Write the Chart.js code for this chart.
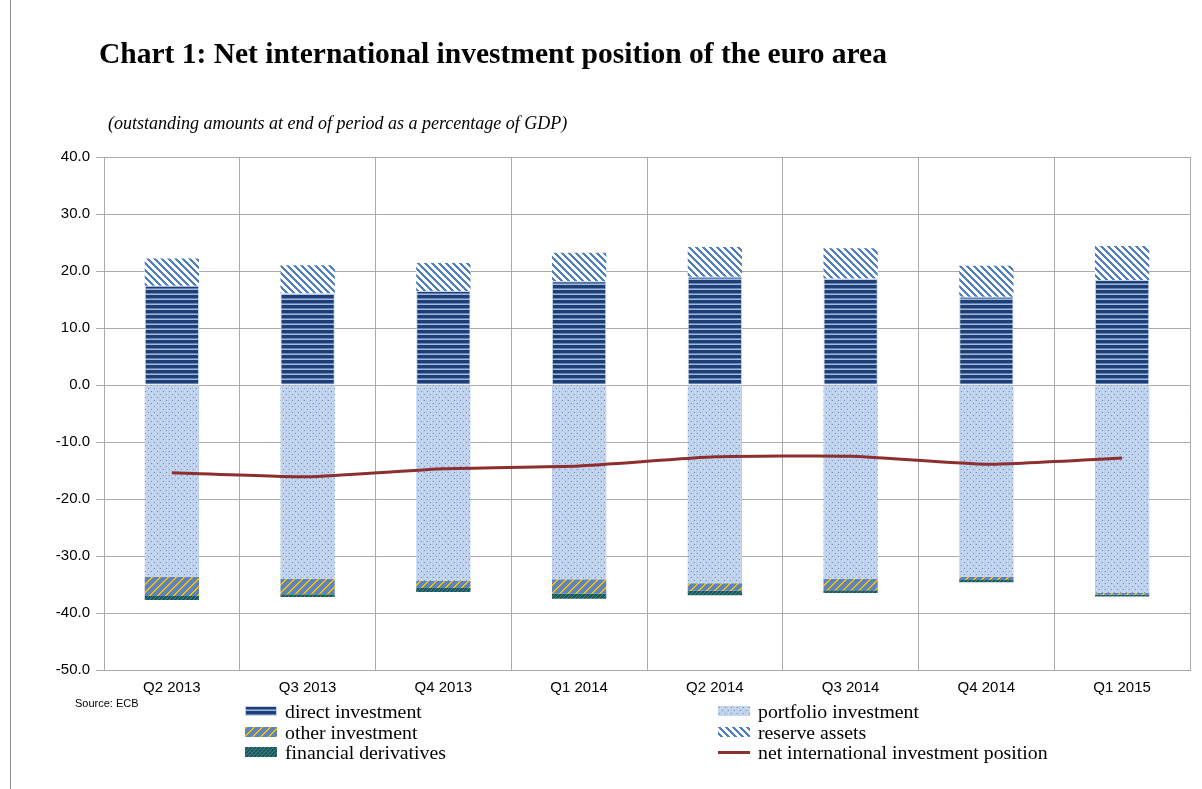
<!DOCTYPE html>
<html>
<head>
<meta charset="utf-8">
<script src="https://cdn.jsdelivr.net/npm/chart.js@4.4.1/dist/chart.umd.min.js"></script>
<style>
  body { margin: 0; background: #fff; }
  #wrap { position: relative; width: 1202px; height: 789px; overflow: hidden; }
  #chart { position: absolute; left: 0; top: 0; }
  .frame { position: absolute; left: 10px; top: 0; width: 1px; height: 789px; background: #8c8c8c; }
  .title { position: absolute; left: 99px; top: 37px; font: bold 29.5px "Liberation Serif", "Times New Roman", serif; color: #000; white-space: nowrap; }
  .subtitle { position: absolute; left: 108px; top: 113px; font: italic 18px "Liberation Serif", serif; color: #000; white-space: nowrap; }
  .source { position: absolute; left: 75px; top: 697px; font: 11px "Liberation Sans", Arial, sans-serif; color: #000; }
  .leg { position: absolute; font: 19.8px "Liberation Serif", serif; color: #000; white-space: nowrap; line-height: 20px; }
  .leg canvas { position: absolute; left: 0; top: 5px; }
  .leg span { position: absolute; top: 0; }
</style>
</head>
<body>
<div id="wrap">
  <canvas id="chart" width="1202" height="789"></canvas>
  <div class="frame"></div>
  <div class="title">Chart 1: Net international investment position of the euro area</div>
  <div class="subtitle">(outstanding amounts at end of period as a percentage of GDP)</div>
  <div class="source">Source: ECB</div>
  <div id="legend"></div>
</div>
<script>
// data (% of GDP)
const categories = ['Q2 2013', 'Q3 2013', 'Q4 2013', 'Q1 2014', 'Q2 2014', 'Q3 2014', 'Q4 2014', 'Q1 2015'];
const directInvestment = [17.4, 16.1, 16.5, 18.2, 19.0, 18.7, 15.5, 18.4];
const portfolioInvestment = [-33.7, -34.0, -34.4, -34.1, -34.8, -34.0, -33.7, -36.5];
const otherInvestment = [-3.3, -2.7, -1.2, -2.5, -1.3, -2.0, -0.5, -0.3];
const financialDerivatives = [-0.7, -0.5, -0.7, -0.9, -0.8, -0.5, -0.4, -0.3];
const reserveAssets = [4.8, 4.9, 4.9, 5.0, 5.2, 5.3, 5.4, 6.0];
const netPosition = [-15.4, -16.1, -14.7, -14.2, -12.6, -12.5, -13.9, -12.8];
const yMin = -50, yMax = 40, yStep = 10;

// small tiles used as fill patterns
function makeTile(w, h, colorAt) {
    const c = document.createElement('canvas');
    c.width = w; c.height = h;
    const g = c.getContext('2d');
    for (let y = 0; y < h; y++) {
        for (let x = 0; x < w; x++) {
            g.fillStyle = colorAt(x, y);
            g.fillRect(x, y, 1, 1);
        }
    }
    return c;
}

const tiles = {
    direct: makeTile(4, 5, (x, y) => y < 3 ? '#1f3f74' : (y === 3 ? '#5f82b8' : '#9fb8dc')),
    portfolio: makeTile(6, 6, (x, y) => (x === 1 && y === 1) || (x === 4 && y === 4) ? '#6a8bc0' : (x % 3 === 0 ? '#b9cdea' : '#c5d8f0')),
    other: makeTile(8, 8, (x, y) => ((x + y) % 8) < 2 ? '#f2bf10' : '#5f84b9'),
    derivatives: makeTile(4, 4, (x, y) => ((x + y) % 4 === 0) ? '#3c8f73' : '#1d5766'),
    reserve: makeTile(7, 7, (x, y) => (((x - y) % 7) + 7) % 7 < 3 ? '#4f7fc0' : '#ffffff')
};

const ctx = document.getElementById('chart').getContext('2d');
const fill = {};
for (const k in tiles) fill[k] = ctx.createPattern(tiles[k], 'repeat');

const gridColor = '#aaaaaa';
const tickFont = { family: '"Liberation Sans", Arial, sans-serif', size: 15 };

new Chart(ctx, {
    data: {
        labels: categories,
        datasets: [{
            type: 'line',
            label: 'net international investment position',
            data: netPosition,
            borderColor: '#8e2f2f',
            borderWidth: 3,
            pointRadius: 0,
            tension: 0.15,
            stack: 'line',
            order: 0
        }, {
            type: 'bar',
            label: 'direct investment',
            data: directInvestment,
            backgroundColor: fill.direct,
            borderColor: '#c3d4ec',
            borderWidth: 1,
            stack: 'a',
            order: 1
        }, {
            type: 'bar',
            label: 'portfolio investment',
            data: portfolioInvestment,
            backgroundColor: fill.portfolio,
            borderWidth: 0,
            stack: 'a',
            order: 1
        }, {
            type: 'bar',
            label: 'other investment',
            data: otherInvestment,
            backgroundColor: fill.other,
            borderWidth: 0,
            stack: 'a',
            order: 1
        }, {
            type: 'bar',
            label: 'financial derivatives',
            data: financialDerivatives,
            backgroundColor: fill.derivatives,
            borderWidth: 0,
            stack: 'a',
            order: 1
        }, {
            type: 'bar',
            label: 'reserve assets',
            data: reserveAssets,
            backgroundColor: fill.reserve,
            borderWidth: 0,
            stack: 'a',
            order: 1
        }]
    },
    options: {
        responsive: false,
        animation: false,
        layout: { padding: { left: 0, right: 12, top: 157, bottom: 0 } },
        datasets: { bar: { barPercentage: 0.4, categoryPercentage: 1.0 } },
        plugins: { legend: { display: false }, tooltip: { enabled: false } },
        scales: {
            x: {
                stacked: true,
                grid: { color: gridColor, offset: true, tickLength: 0 },
                border: { color: gridColor },
                ticks: { color: '#000', font: tickFont, padding: 9, maxRotation: 0 },
                afterFit: s => { s.height = 119; }
            },
            y: {
                stacked: true,
                min: yMin,
                max: yMax,
                grid: { color: gridColor, tickLength: 8 },
                border: { color: gridColor },
                ticks: {
                    stepSize: yStep,
                    color: '#000',
                    font: tickFont,
                    padding: 6,
                    callback: v => v.toFixed(1)
                },
                afterFit: s => { s.width = 104; }
            }
        }
    }
});

// legend in two columns, like the original
const legendItems = [
    { text: 'direct investment', key: 'direct', x: 245, y: 701 },
    { text: 'other investment', key: 'other', x: 245, y: 722 },
    { text: 'financial derivatives', key: 'derivatives', x: 245, y: 742 },
    { text: 'portfolio investment', key: 'portfolio', x: 718, y: 701 },
    { text: 'reserve assets', key: 'reserve', x: 718, y: 722 },
    { text: 'net international investment position', key: 'line', x: 718, y: 742 }
];
const legendBox = document.getElementById('legend');
legendItems.forEach(item => {
    const d = document.createElement('div');
    d.className = 'leg';
    d.style.left = item.x + 'px';
    d.style.top = item.y + 'px';
    const sw = document.createElement('canvas');
    sw.width = 32; sw.height = 10;
    const g = sw.getContext('2d');
    if (item.key === 'line') {
        g.fillStyle = '#8e2f2f';
        g.fillRect(0, 4, 32, 3);
    } else {
        g.fillStyle = g.createPattern(tiles[item.key], 'repeat');
        g.fillRect(0, 0, 32, 10);
        if (item.key === 'direct') {
            g.strokeStyle = '#c3d4ec';
            g.strokeRect(0.5, 0.5, 31, 9);
        }
    }
    const t = document.createElement('span');
    t.style.left = '40px';
    t.textContent = item.text;
    d.appendChild(sw);
    d.appendChild(t);
    legendBox.appendChild(d);
});
</script>
</body>
</html>
